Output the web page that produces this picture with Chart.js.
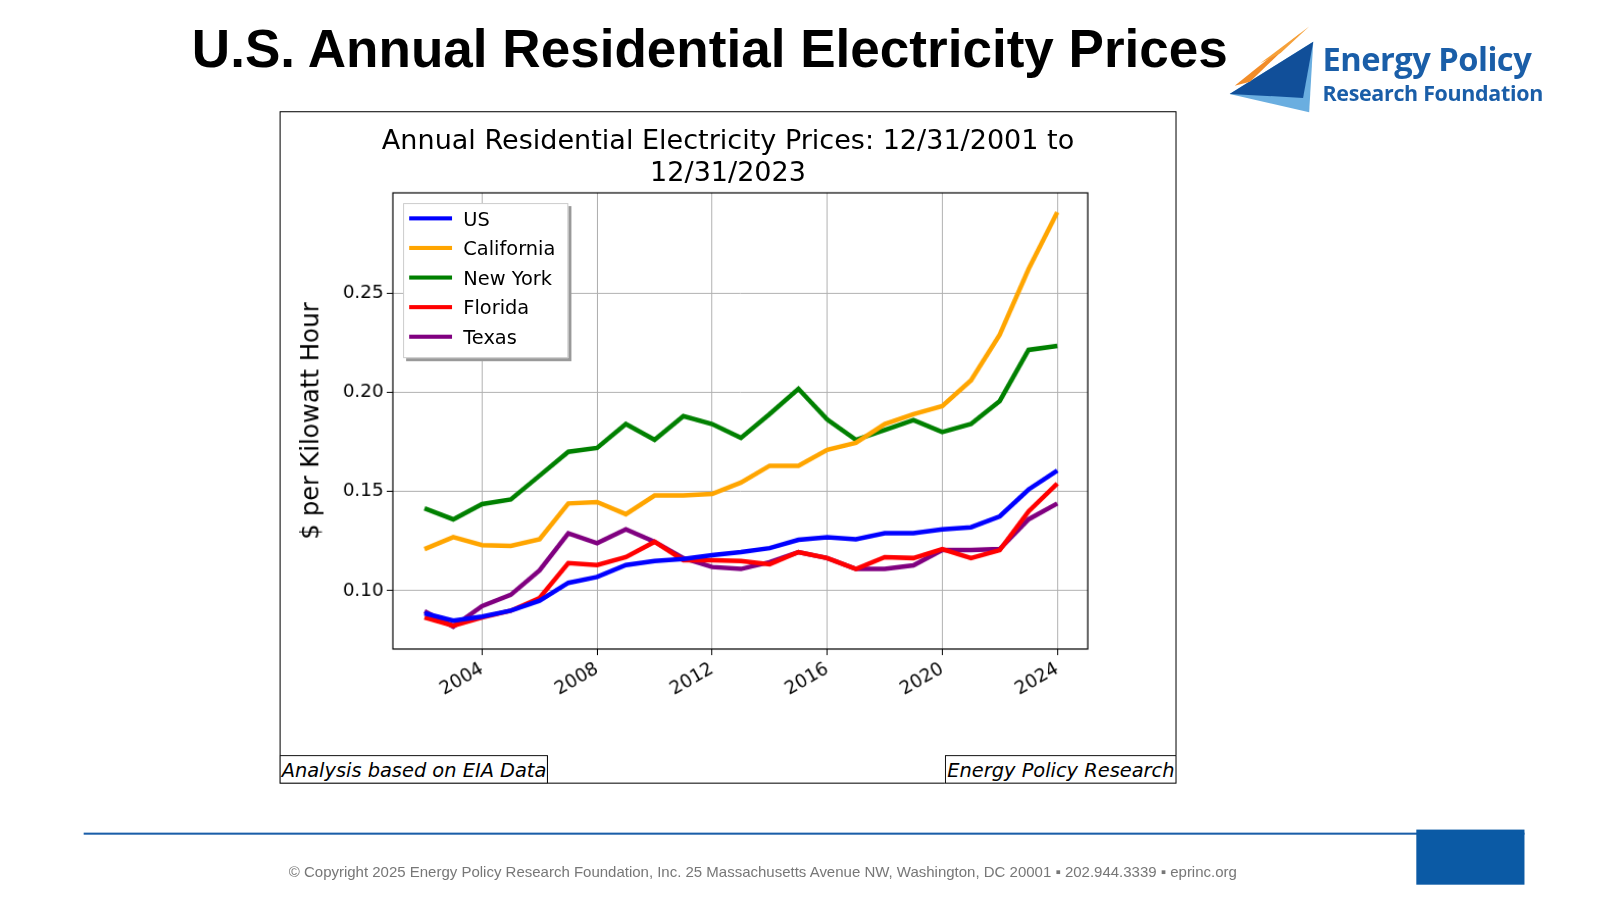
<!DOCTYPE html>
<html><head><meta charset="utf-8">
<script src="https://cdn.jsdelivr.net/npm/chart.js@4"></script>
<style>
body{margin:0;width:1600px;height:900px;background:#fff;font-family:"DejaVu Sans",sans-serif;overflow:hidden}
#w{position:absolute;left:0;top:0;width:1568px;height:882px;transform:scale(1.0204);transform-origin:0 0}
#h{position:absolute;left:188px;top:18px;font:bold 52px "Liberation Sans",Arial,sans-serif;color:#000}
#box{position:absolute;left:274px;top:109px;width:877px;height:657px;border:1px solid #000}
#ct{position:absolute;left:0;top:11px;width:100%;text-align:center;font-size:26.5px;line-height:31px;color:#000}
#leg{position:absolute;left:120px;top:89px;width:160px;height:150px;border:1px solid #ccc;background:#fff;box-shadow:3px 3px 0 #999;font-size:19px}
#leg div{height:29px;line-height:29px;padding-left:58px;position:relative}
#leg span{position:absolute;left:5px;top:12px;width:42px;height:4px}
.fb{position:absolute;bottom:-1px;border:1px solid #000;font-style:italic;font-size:19px;padding:2px 1px;background:#fff}
#line{position:absolute;left:82px;top:816px;width:1412px;height:2px;background:#1a5ea8}
#sq{position:absolute;left:1388px;top:813px;width:106px;height:54px;background:#0b5aa5}
#foot{position:absolute;left:283px;top:846px;font:14.7px "Liberation Sans",Arial,sans-serif;color:#777}
#logo{position:absolute;left:1205px;top:24px}
#lt{position:absolute;left:1296px;top:40px;font:bold 32px "Open Sans",sans-serif;color:#1a5ea8;line-height:36px;letter-spacing:-0.5px}
#lt2{position:absolute;left:1296px;top:77px;font:bold 21px "Open Sans",sans-serif;color:#1a5ea8;letter-spacing:-0.3px}
</style></head><body><div id="w">
<div id="h">U.S. Annual Residential Electricity Prices</div>
<svg id="logo" width="90" height="90"><polygon points="0,68 82,17 78,86" fill="#6aaee0"/><polygon points="0,68 82,17 72,72" fill="#114f99"/><polygon points="5,60 70,8 20,56" fill="#f28c28"/><polygon points="30,38 78,2 50,28" fill="#f6a13a"/></svg>
<div id="lt">Energy Policy</div><div id="lt2">Research Foundation</div>
<div id="box">
<canvas id="c" width="877" height="657"></canvas>
<div id="ct">Annual Residential Electricity Prices: 12/31/2001 to<br>12/31/2023</div>
<div id="leg"></div>
<div class="fb" style="left:-1px">Analysis based on EIA Data</div>
<div class="fb" style="right:-1px">Energy Policy Research</div>
</div>
<div id="line"></div><div id="sq"></div>
<div id="foot">© Copyright 2025 Energy Policy Research Foundation, Inc. 25 Massachusetts Avenue NW, Washington, DC 20001 ▪ 202.944.3339 ▪ eprinc.org</div>
</div>
<script>
const years=[2002,2003,2004,2005,2006,2007,2008,2009,2010,2011,2012,2013,2014,2015,2016,2017,2018,2019,2020,2021,2022,2023,2024];
const us=[0.0887,0.085,0.087,0.090,0.095,0.104,0.107,0.113,0.115,0.116,0.118,0.1195,0.1215,0.1257,0.127,0.126,0.129,0.129,0.131,0.132,0.1375,0.151,0.1606];
const california=[0.121,0.127,0.123,0.1226,0.126,0.144,0.1447,0.1386,0.148,0.148,0.1488,0.1545,0.163,0.163,0.171,0.1745,0.184,0.189,0.193,0.206,0.229,0.262,0.2906];
const newYork=[0.1416,0.136,0.1437,0.146,0.158,0.170,0.172,0.184,0.176,0.188,0.184,0.177,0.189,0.2017,0.1863,0.176,0.181,0.186,0.180,0.184,0.1956,0.2213,0.2233];
const florida=[0.0866,0.0825,0.0866,0.090,0.0964,0.114,0.113,0.117,0.1247,0.1154,0.1154,0.115,0.1134,0.1195,0.1165,0.111,0.117,0.1165,0.121,0.1165,0.1205,0.140,0.154];
const texas=[0.0897,0.082,0.0923,0.098,0.1103,0.129,0.124,0.131,0.1247,0.1165,0.112,0.111,0.1144,0.1195,0.1165,0.111,0.111,0.1128,0.1205,0.1205,0.121,0.136,0.144];
const names=['US','California','New York','Florida','Texas'];
const colors=['#0000ff','#ffa500','#008000','#ff0000','#800080'];
const series=[us,california,newYork,florida,texas];
const leg=document.getElementById('leg');
names.forEach((n,i)=>{leg.innerHTML+=`<div><span style="background:${colors[i]}"></span>${n}</div>`});
const frame={id:'frame',afterDraw(c){const a=c.chartArea,x=c.ctx;x.save();x.strokeStyle='#000';x.lineWidth=1.2;x.strokeRect(a.left,a.top,a.right-a.left,a.bottom-a.top);x.restore();}};
new Chart(document.getElementById('c'),{type:'line',
data:{datasets:series.map((s,i)=>({label:names[i],data:years.map((y,j)=>({x:y,y:s[j]})),borderColor:colors[i],borderWidth:4.5,pointRadius:0,tension:0}))},
options:{responsive:false,animation:false,layout:{padding:{top:79,right:86}},
plugins:{legend:{display:false},tooltip:{enabled:false}},
scales:{
x:{type:'linear',min:2000.9,max:2025.06,grid:{color:'#b0b0b0',tickColor:'#000',tickLength:6},border:{display:false},
 ticks:{callback:v=>String(v),maxRotation:30,minRotation:30,color:'#000',font:{size:18,family:'DejaVu Sans'}},
 afterBuildTicks:a=>{a.ticks=[2004,2008,2012,2016,2020,2024].map(v=>({value:v}))},
 afterFit:a=>{a.height=131}},
y:{min:0.0707,max:0.3004,grid:{color:'#b0b0b0',tickColor:'#000',tickLength:6},border:{display:false},
 afterBuildTicks:a=>{a.ticks=[0.10,0.15,0.20,0.25].map(v=>({value:v}))},
 ticks:{color:'#000',callback:v=>v.toFixed(2),font:{size:18,family:'DejaVu Sans'}},
 title:{display:true,text:'$ per Kilowatt Hour',color:'#000',font:{size:24,family:'DejaVu Sans'},padding:{top:16,bottom:0}},
 afterFit:a=>{a.width=110}}}},
plugins:[frame]});
</script></body></html>
